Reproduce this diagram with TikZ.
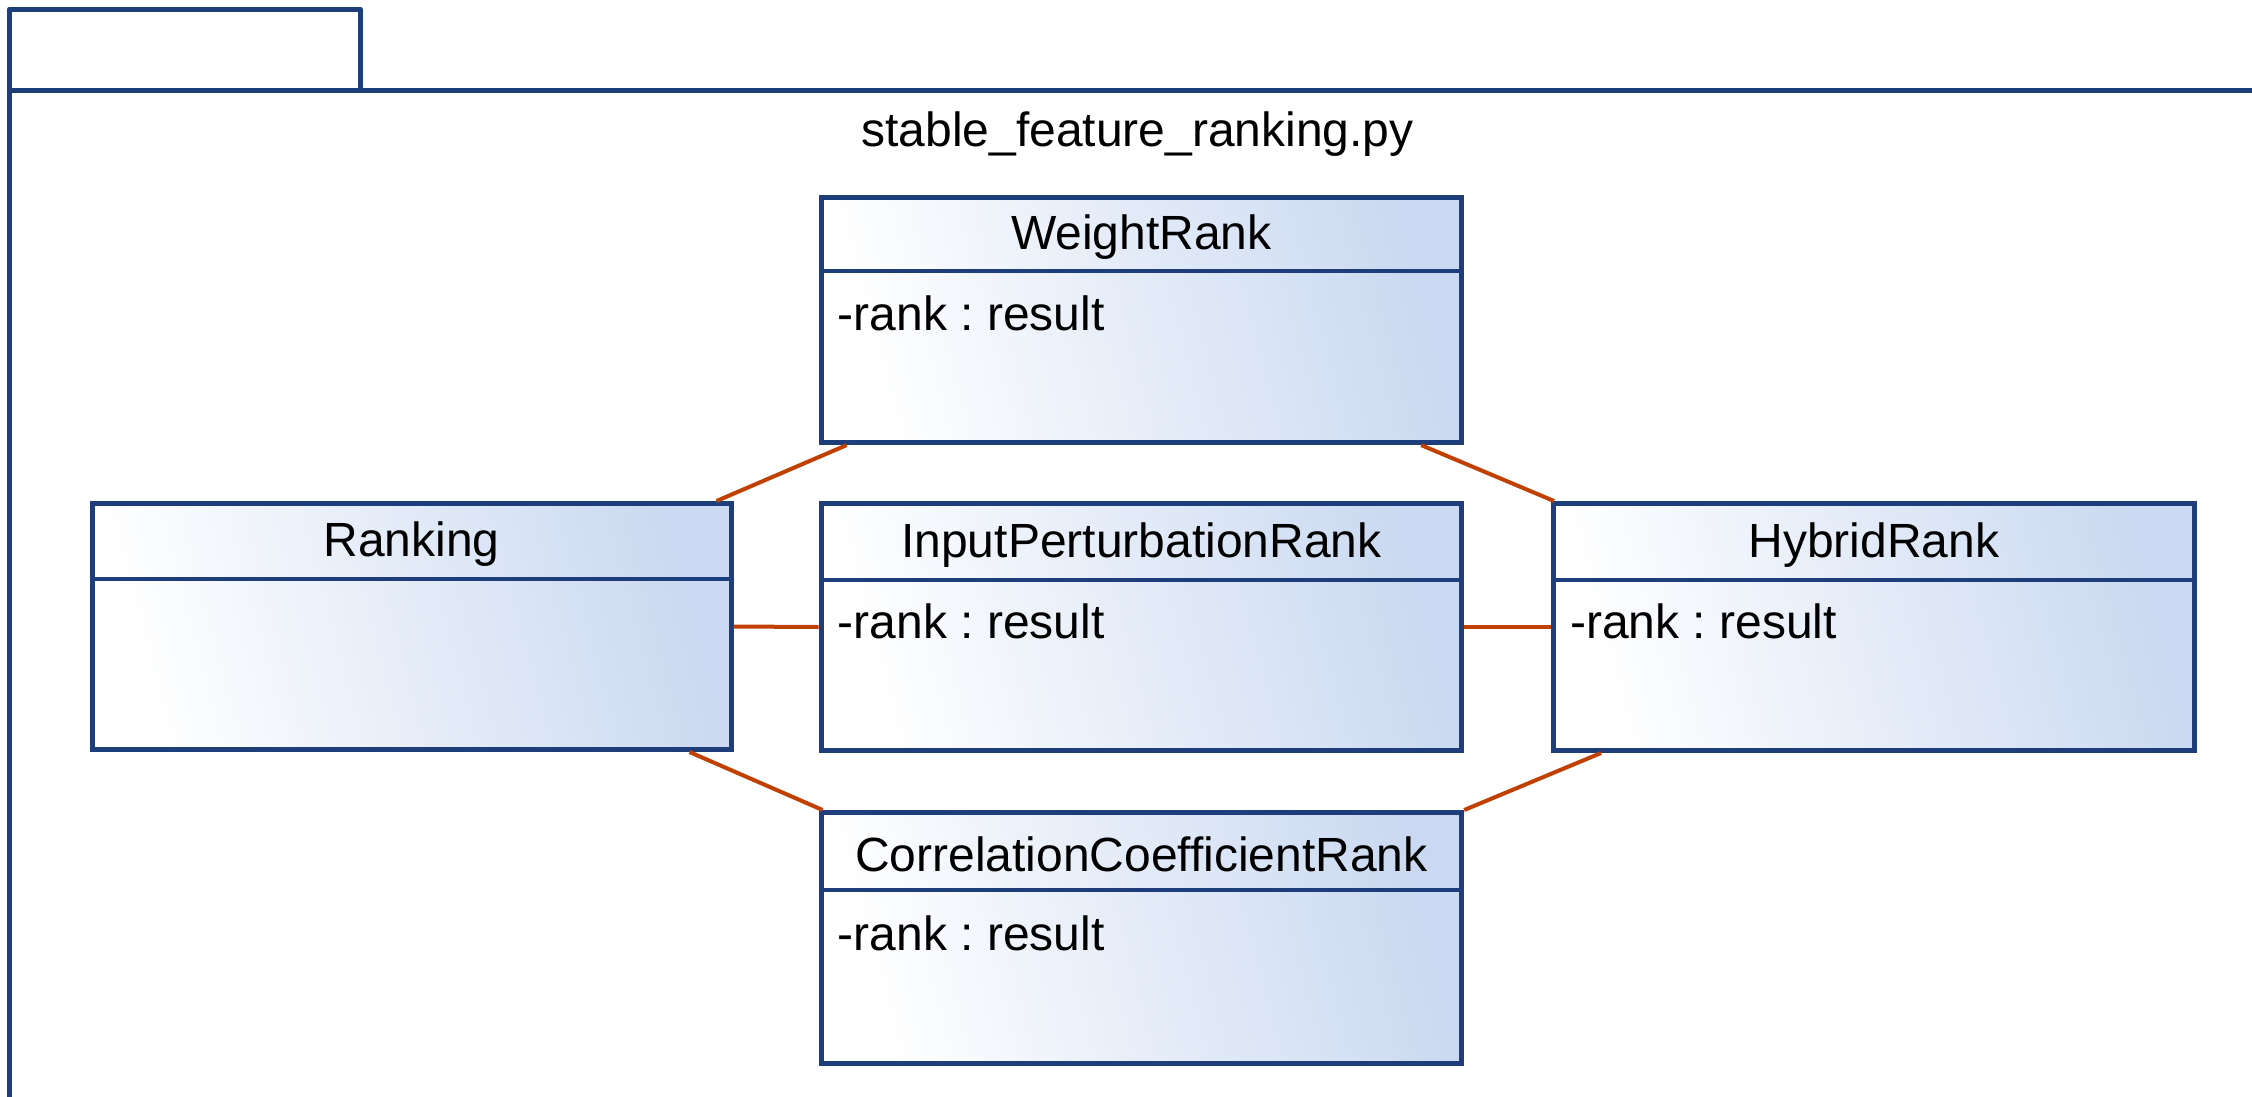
\documentclass[tikz,border=0pt]{standalone}
\usepackage{fontspec}
\setmainfont{Liberation Sans}
\usetikzlibrary{calc}
\definecolor{frameblue}{RGB}{29,62,122}
\definecolor{linkred}{RGB}{192,64,0}
\definecolor{fillblue}{RGB}{202,217,241}
\tikzset{
  framestroke/.style={draw=frameblue, line width=5pt},
  classbox/.style={rectangle, draw=frameblue, line width=5pt, anchor=north west,
    left color=white, right color=fillblue, shading angle=105, inner sep=0pt},
  divider/.style={draw=frameblue, line width=4pt},
  classname/.style={font=\fontsize{48}{56}\selectfont, inner sep=0pt},
  attr/.style={font=\fontsize{48}{56}\selectfont, inner sep=0pt, anchor=west},
  link/.style={draw=linkred, line width=4pt}
}
\frenchspacing
\begin{document}
\begin{tikzpicture}[x=1pt,y=-1pt]
\useasboundingbox (0,0) rectangle (2252,1096);
% package frame and tab
\draw[framestroke] (9.5,1100) -- (9.5,90) -- (2260,90);
\draw[framestroke, line join=round] (9.5,90) -- (9.5,9) -- (360,9) -- (360,90);
\node[classname] (title) at (1137.5,134) {stable\_feature\_ranking.py};

% classes
\node[classbox, minimum width=640.6pt, minimum height=245.6pt] (weight) at (818.6,194.5) {};
\node[classbox, minimum width=639pt, minimum height=246pt] (rank) at (89.5,501) {};
\node[classbox, minimum width=640.6pt, minimum height=247pt] (input) at (818.6,501) {};
\node[classbox, minimum width=640.6pt, minimum height=247pt] (hybrid) at (1551,501) {};
\node[classbox, minimum width=640.6pt, minimum height=251pt] (corr) at (818.6,810) {};

% dividers
\draw[divider] ($(weight.north west)+(0,76)$) -- ($(weight.north east)+(0,76)$);
\draw[divider] ($(rank.north west)+(0,78)$) -- ($(rank.north east)+(0,78)$);
\draw[divider] ($(input.north west)+(0,79)$) -- ($(input.north east)+(0,79)$);
\draw[divider] ($(hybrid.north west)+(0,79)$) -- ($(hybrid.north east)+(0,79)$);
\draw[divider] ($(corr.north west)+(0,80)$) -- ($(corr.north east)+(0,80)$);

% class names
\node[classname] (weightT) at ($(weight.north)+(0,43)$) {WeightRank};
\node[classname] (rankT) at ($(rank.north)+(0,43)$) {Ranking};
\node[classname] (inputT) at ($(input.north)+(0,44)$) {InputPerturbationRank};
\node[classname] (hybridT) at ($(hybrid.north)+(0,44)$) {HybridRank};
\node[classname] (corrT) at ($(corr.north)+(0,44)$) {CorrelationCoefficientRank};

% attributes
\node[attr] (weightA) at ($(weight.north west)+(19,119)$) {-rank : result};
\node[attr] (inputA) at ($(input.north west)+(19,120)$) {-rank : result};
\node[attr] (hybridA) at ($(hybrid.north west)+(19,120)$) {-rank : result};
\node[attr] (corrA) at ($(corr.north west)+(19,123)$) {-rank : result};

% connectors
\draw[link] ($(rank.north east)+(-17,0)$) -- ($(weight.south west)+(28,0)$);
\draw[link] ($(weight.south east)+(-43,0)$) -- ($(hybrid.north west)+(3,0)$);
\draw[link] (rank.east) -- (input.west);
\draw[link] (input.east) -- (hybrid.west);
\draw[link] ($(rank.south east)+(-44,0)$) -- ($(corr.north west)+(4,0)$);
\draw[link] ($(hybrid.south west)+(50,0)$) -- (corr.north east);
\end{tikzpicture}
\end{document}
